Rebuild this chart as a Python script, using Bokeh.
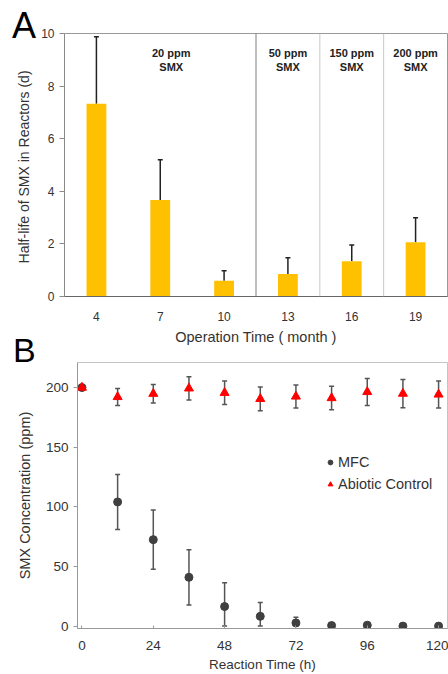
from bokeh.plotting import figure
from bokeh.models import (ColumnDataSource, Range1d, FactorRange, Whisker, TeeHead, Span,
                          Legend, LegendItem, FixedTicker, Div)
from bokeh.layouts import column
from bokeh.embed import file_html
from bokeh.resources import INLINE

# ---------------- Panel A data ----------------
months = ["4", "7", "10", "13", "16", "19"]
half_life = [7.33, 3.67, 0.60, 0.86, 1.34, 2.06]
half_life_upper = [9.88, 5.20, 0.98, 1.47, 1.96, 2.99]
smx_ppm = [20, 20, 20, 50, 150, 200]
a_yticks = [0, 2, 4, 6, 8, 10]

# ---------------- Panel B data ----------------
hours = [0, 12, 24, 36, 48, 60, 72, 84, 96, 108, 120]
mfc = [200, 104.1, 72.5, 40.9, 16.4, 8.2, 2.7, 0.5, 0.8, 0.0, 0.0]
mfc_err = [0, 23.1, 24.9, 23.1, 20.0, 11.5, 4.7, 0, 0, 0, 0]
abiotic = [200, 192.1, 194.8, 199.3, 195.6, 190.5, 192.5, 191.2, 196.3, 194.9, 194.2]
abiotic_err = [0, 7.1, 7.7, 9.7, 9.8, 9.9, 9.7, 9.8, 11.3, 11.9, 11.3]
b_xticks = [0, 24, 48, 72, 96, 120]
b_yticks = [0, 50, 100, 150, 200]

FONT = "Liberation Sans"
TXT = "#333333"
W = 448
HA, HB = 350, 324


def no_frame_align(p):
    if "frame_align" in p.properties():
        p.frame_align = False


def letter(txt, size, left, top):
    return Div(text=f'<div style="font-family: \'Liberation Sans\'; font-size: {size}px; '
                    f'line-height: 1; color: black; margin: 0; padding: 0;">{txt}</div>',
               width=30, height=40, margin=0,
               styles={"position": "absolute", "left": f"{left}px", "top": f"{top}px"})


# ================= Panel A =================
pa = figure(width=W, height=HA,
            x_range=FactorRange(*months, range_padding=0),
            y_range=Range1d(0, 10),
            output_backend="svg", toolbar_location=None,
            min_border_left=64, min_border_right=1,
            min_border_top=33, min_border_bottom=54)
no_frame_align(pa)
pa.outline_line_color = "#9a9a9a"
pa.grid.visible = False
pa.background_fill_color = "white"
pa.border_fill_color = "white"

src_a = ColumnDataSource(dict(month=months, hl=half_life, up=half_life_upper))
pa.vbar(x="month", top="hl", width=0.31, source=src_a,
        fill_color="#FFC000", line_color=None)
pa.add_layout(Whisker(base="month", lower="hl", upper="up", source=src_a,
                      dimension="height", line_color="#222222", line_width=1.5,
                      upper_head=TeeHead(size=5, line_color="#222222", line_width=1.5),
                      lower_head=None))

# separators between concentration periods and group labels
sep_colors = ["#7f7f7f", "#c8c8c8", "#c8c8c8", "#c8c8c8"]
groups = []
start = 0
for i in range(1, len(smx_ppm) + 1):
    if i == len(smx_ppm) or smx_ppm[i] != smx_ppm[start]:
        groups.append((start, i, smx_ppm[start]))
        start = i
for k, (s, e, ppm) in enumerate(groups[1:]):
    pa.add_layout(Span(location=s, dimension="height",
                       line_color=sep_colors[k], line_width=1))
gx = [(s + e) / 2 for s, e, _ in groups]
gy = [9.0 for _ in groups]
gt = [f"{ppm} ppm\nSMX" for _, _, ppm in groups]
g_xoff = [11, 0, 0, 0]
pa.text(x=gx, y=gy, text=gt, x_offset=g_xoff, text_align="center", text_baseline="middle",
        text_font_size="11px", text_font_style="bold", text_color="#222222",
        text_font={"value": FONT})

ya = pa.yaxis[0]
ya.ticker = FixedTicker(ticks=a_yticks)
ya.minor_tick_line_color = None
ya.major_tick_out = 5
ya.major_tick_in = 0
ya.axis_line_color = "#8a8a8a"
ya.major_tick_line_color = "#8a8a8a"
ya.major_label_standoff = 5
ya.major_label_text_font = FONT
ya.major_label_text_font_size = "12px"
ya.major_label_text_color = TXT
ya.axis_label = "Half-life of SMX in Reactors  (d)"
ya.axis_label_text_font = FONT
ya.axis_label_text_font_style = "normal"
ya.axis_label_text_font_size = "14px"
ya.axis_label_text_color = TXT
ya.axis_label_standoff = 6

xa = pa.xaxis[0]
xa.major_tick_line_color = None
xa.minor_tick_line_color = None
xa.axis_line_color = "#666666"
xa.major_label_standoff = 9
xa.major_label_text_font = FONT
xa.major_label_text_font_size = "12px"
xa.major_label_text_color = TXT
xa.axis_label = "Operation Time ( month )"
xa.axis_label_text_font = FONT
xa.axis_label_text_font_style = "normal"
xa.axis_label_text_font_size = "14.5px"
xa.axis_label_text_color = TXT
xa.axis_label_standoff = 5

# ================= Panel B =================
X_MIN, X_MAX = -1.5, 123
Y_MIN, Y_MAX = -2, 221
pb = figure(width=W, height=HB,
            x_range=Range1d(X_MIN, X_MAX), y_range=Range1d(Y_MIN, Y_MAX),
            output_backend="svg", toolbar_location=None,
            min_border_left=77, min_border_right=1,
            min_border_top=12, min_border_bottom=43)
no_frame_align(pb)
pb.outline_line_color = "#c4c4c4"
pb.grid.visible = False
pb.background_fill_color = "white"
pb.border_fill_color = "white"

m_idx = [i for i, e in enumerate(mfc_err) if e > 0]
src_mw = ColumnDataSource(dict(
    h=[hours[i] for i in m_idx],
    lo=[max(mfc[i] - mfc_err[i], 0) for i in m_idx],
    hi=[mfc[i] + mfc_err[i] for i in m_idx]))
a_idx = [i for i, e in enumerate(abiotic_err) if e > 0]
src_aw = ColumnDataSource(dict(
    h=[hours[i] for i in a_idx],
    lo=[abiotic[i] - abiotic_err[i] for i in a_idx],
    hi=[abiotic[i] + abiotic_err[i] for i in a_idx]))
for src in (src_mw, src_aw):
    pb.add_layout(Whisker(base="h", lower="lo", upper="hi", source=src,
                          dimension="height", line_color="#555555", line_width=1.5,
                          upper_head=TeeHead(size=5, line_color="#555555", line_width=1.5),
                          lower_head=TeeHead(size=5, line_color="#555555", line_width=1.5)))

r_mfc = pb.scatter(hours, mfc, marker="circle", size=8,
                   fill_color="#404040", line_color="#404040")
r_abi = pb.scatter(hours, abiotic, marker="triangle", size=9,
                   fill_color="#ff0000", line_color="#ff0000")

legend = Legend(items=[LegendItem(label="MFC", renderers=[r_mfc]),
                       LegendItem(label="Abiotic Control", renderers=[r_abi])],
                location=(247, 134), border_line_color=None, background_fill_alpha=0,
                label_text_font=FONT, label_text_font_size="14.5px",
                label_text_color=TXT, glyph_width=12, glyph_height=20,
                label_standoff=2, spacing=2, padding=0, margin=0)
pb.add_layout(legend)

yb = pb.yaxis[0]
yb.ticker = FixedTicker(ticks=b_yticks)
yb.minor_tick_line_color = None
yb.major_tick_out = 4
yb.major_tick_in = 0
yb.axis_line_color = "#999999"
yb.major_tick_line_color = "#999999"
yb.major_label_standoff = 5
yb.major_label_text_font = FONT
yb.major_label_text_font_size = "13.5px"
yb.major_label_text_color = TXT
yb.axis_label = "SMX Concentration (ppm)"
yb.axis_label_text_font = FONT
yb.axis_label_text_font_style = "normal"
yb.axis_label_text_font_size = "14.5px"
yb.axis_label_text_color = TXT
yb.axis_label_standoff = 10

xb = pb.xaxis[0]
xb.ticker = FixedTicker(ticks=b_xticks)
xb.minor_tick_line_color = None
xb.major_tick_out = 0
xb.major_tick_in = 3
xb.axis_line_color = "#999999"
xb.major_tick_line_color = "#999999"
xb.major_label_standoff = 12
xb.major_label_text_font = FONT
xb.major_label_text_font_size = "13.5px"
xb.major_label_text_color = TXT
xb.axis_label = "Reaction Time (h)"
xb.axis_label_text_font = FONT
xb.axis_label_text_font_style = "normal"
xb.axis_label_text_font_size = "13.5px"
xb.axis_label_text_color = TXT
xb.axis_label_standoff = 4

letter_a = letter("A", 36, 12, 8)
letter_b = letter("B", 34, 13, 333)

layout = column(pa, pb, letter_a, letter_b, spacing=0)
open("out.html", "w").write(file_html(layout, INLINE))
